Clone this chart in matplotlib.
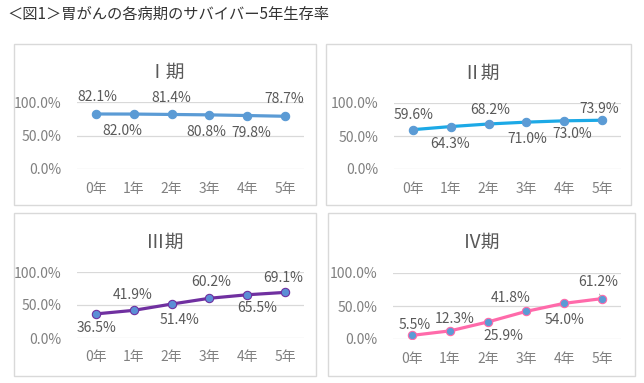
import matplotlib
matplotlib.use("Agg")
import matplotlib.pyplot as plt
from matplotlib.patches import Rectangle

plt.rcParams['font.family'] = ['Noto Sans CJK JP', 'DejaVu Sans']

years = ["0年", "1年", "2年", "3年", "4年", "5年"]
stages = ["Ⅰ期", "Ⅱ期", "Ⅲ期", "Ⅳ期"]
stage1 = [82.1, 82.0, 81.4, 80.8, 79.8, 78.7]
stage2 = [59.6, 64.3, 68.2, 71.0, 73.0, 73.9]
stage3 = [36.5, 41.9, 51.4, 60.2, 65.5, 69.1]
stage4 = [5.5, 12.3, 25.9, 41.8, 54.0, 61.2]
yticks = [0, 50, 100]

W, H = 644, 383
fig = plt.figure(figsize=(W / 100, H / 100), dpi=100)

# panel box (px), axes box (px: left, right, top(100%), bottom(0%)), title centre
panels = [
    dict(box=(14, 44, 316, 205), ax=(77, 304, 102, 169), tc=(166, 72),
         line="#5B9BD5", mface="#5B9BD5", medge="#5B9BD5"),
    dict(box=(326, 44, 631, 205), ax=(394, 621, 103, 169), tc=(481, 73),
         line="#1CA9E6", mface="#5B9BD5", medge="#5B9BD5"),
    dict(box=(14, 213, 316, 376), ax=(77, 304, 272, 338), tc=(165, 242),
         line="#7030A0", mface="#5B8ED6", medge="#7030A0"),
    dict(box=(328, 213, 635, 376), ax=(393, 621, 273, 339), tc=(482, 242),
         line="#FF6AAA", mface="#5B9BD5", medge="#FF6AAA"),
]
series = [stage1, stage2, stage3, stage4]

# data label offsets in pixels (dx, dy); dy > 0 is upward
offsets = [
    [(1, 17), (-11, -17), (0, 16), (-3, -17), (4, -17), (-1, 17)],
    [(1, 15), (-1, -17), (2, 14), (1, -17), (8, -13), (-3, 11)],
    [(1, -14), (-1, 15), (8, -16), (2, 16), (10, -13), (-2, 14)],
    [(3, 10), (5, 12), (15, -14), (-15, 13), (0, -17), (-4, 17)],
]

for p, vals, offs, name in zip(panels, series, offsets, stages):
    x0, y0, x1, y1 = p["box"]
    fig.patches.append(Rectangle((x0 / W, 1 - y1 / H), (x1 - x0) / W, (y1 - y0) / H,
                                 transform=fig.transFigure, fill=False,
                                 edgecolor="#D9D9D9", linewidth=1))
    fig.text(p["tc"][0] / W, 1 - p["tc"][1] / H, name, ha="center", va="center",
             fontsize=13.5, color="#595959")

    l, r, t, b = p["ax"]
    ax = fig.add_axes([l / W, 1 - b / H, (r - l) / W, (b - t) / H])
    xs = list(range(len(years)))
    ax.plot(xs, vals, color=p["line"], linewidth=2.3, marker="o", markersize=6,
            markerfacecolor=p["mface"], markeredgecolor=p["medge"], markeredgewidth=0.8,
            zorder=3)
    for x, v, (dx, dy) in zip(xs, vals, offs):
        ax.annotate(f"{v:.1f}%", (x, v), xytext=(dx, dy), textcoords="offset pixels",
                    ha="center", va="center", fontsize=10, color="#595959",
                    annotation_clip=False)
    if name == "Ⅳ期":
        ax.annotate("", (xs[-1], vals[-1]), xytext=(-4, 7), textcoords="offset pixels",
                    arrowprops=dict(arrowstyle="-", color="#A6A6A6", lw=0.6))
    ax.set_xlim(-0.5, 5.5)
    ax.set_ylim(0, 100)
    ax.set_yticks(yticks)
    ax.set_yticklabels([f"{v:.1f}%" for v in yticks])
    ax.set_xticks(xs)
    ax.set_xticklabels(years)
    ax.grid(axis="y", color="#D9D9D9", linewidth=0.9)
    ax.set_axisbelow(True)
    for s in ax.spines.values():
        s.set_visible(False)
    ax.tick_params(axis="y", length=0, pad=11, labelsize=10, labelcolor="#808080")
    ax.tick_params(axis="x", length=0, pad=9, labelsize=10, labelcolor="#808080")
    ax.patch.set_alpha(0)

fig.text(7 / W, 1 - 14 / H, "＜図1＞胃がんの各病期のサバイバー5年生存率",
         ha="left", va="center", fontsize=11, color="#333333")

fig.savefig("out.png", dpi=100, facecolor="white")
